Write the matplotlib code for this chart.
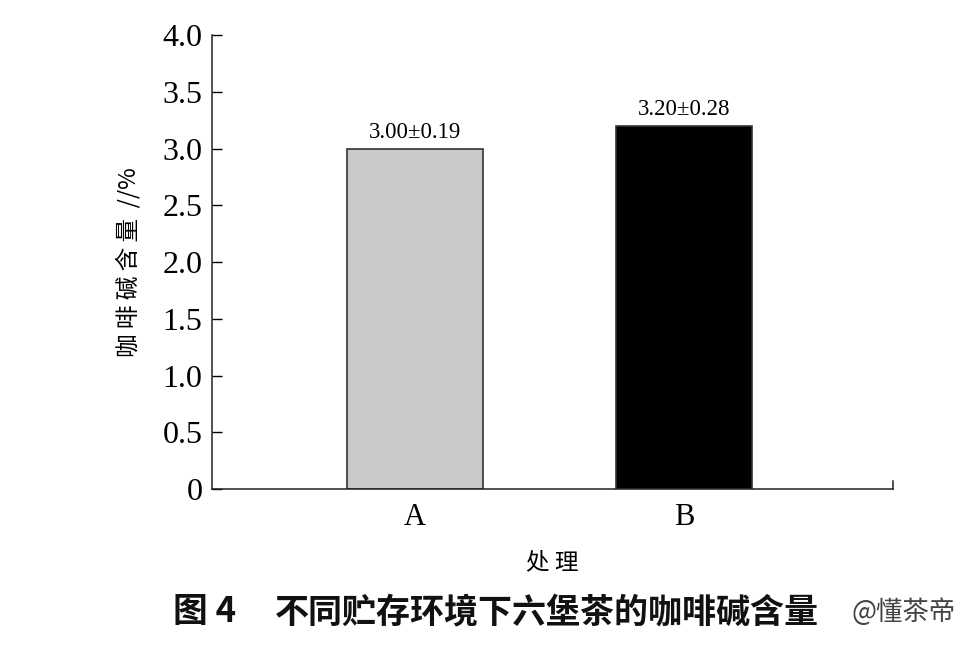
import matplotlib.pyplot as plt

# data
treatments = ['A', 'B']
caffeine = [3.00, 3.20]
caffeine_sd = [0.19, 0.28]
bar_colors = ['#c9c9c9', '#000000']
yticks = [0, 0.5, 1.0, 1.5, 2.0, 2.5, 3.0, 3.5, 4.0]
ytick_labels = ['0', '0.5', '1.0', '1.5', '2.0', '2.5', '3.0', '3.5', '4.0']

serif = 'Liberation Serif'
cjk = ['Noto Sans CJK SC', 'DejaVu Sans']

fig = plt.figure(figsize=(9.76, 6.46), dpi=100)
ax = fig.add_axes([0.2172, 0.2430, 0.6977, 0.7028])

x = list(range(len(treatments)))
ax.bar(x, caffeine, width=0.505, color=bar_colors, edgecolor='#333333', linewidth=1.2)

for xi, v, sd in zip(x, caffeine, caffeine_sd):
    ax.text(xi, v + 0.05, '%.2f±%.2f' % (v, sd), ha='center', va='bottom',
            fontsize=16.5, family=serif)

ax.set_xlim(-0.755, 1.777)
ax.set_ylim(0, 4.0)
ax.set_yticks(yticks)
ax.set_yticklabels(ytick_labels, family=serif, fontsize=23)
ax.set_xticks(x)
ax.set_xticklabels(treatments, family=serif, fontsize=22)
ax.tick_params(axis='y', direction='in', length=7, width=1, pad=7)
ax.tick_params(axis='x', length=0, pad=10)

ax.spines['top'].set_visible(False)
ax.spines['right'].set_bounds(0, 0.07)
for s in ['left', 'bottom', 'right']:
    ax.spines[s].set_linewidth(1.1)
    ax.spines[s].set_color('#222222')

ax.set_ylabel('咖 啡 碱 含 量  //%', family=cjk, fontsize=17, labelpad=16)
ax.set_xlabel('处 理', family=cjk, fontsize=17, labelpad=14)

# caption and the site watermark at its end
fig.text(0.177, 0.053, '图 4', family=cjk, fontsize=25, fontweight='bold',
         ha='left', va='center', color='#111111')
fig.text(0.282, 0.053, '不同贮存环境下六堡茶的咖啡碱含量', family=cjk,
         fontsize=24.5, fontweight='bold', ha='left', va='center', color='#111111')
fig.text(0.979, 0.053, '@懂茶帝', family=cjk, fontsize=19, ha='right',
         va='center', color='#444444')

fig.savefig('out.png', dpi=100)
